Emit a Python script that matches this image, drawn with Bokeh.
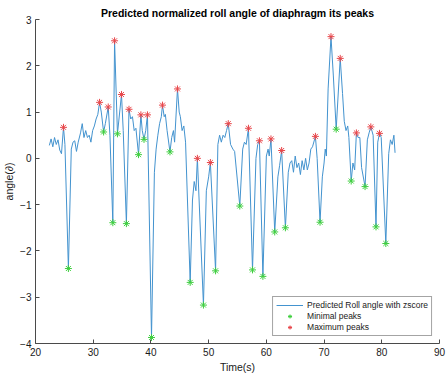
from bokeh.plotting import figure
from bokeh.models import ColumnDataSource, FixedTicker, Range1d
from bokeh.embed import file_html
from bokeh.resources import INLINE

# --- data ---
time_s = [22.4, 22.7, 23.0, 23.3, 23.6, 23.9, 24.2, 24.5, 24.85, 25.1, 25.7,
          26.2, 26.5, 26.8, 27.1, 27.4, 27.8, 28.1, 28.4, 28.7, 29.0, 29.3, 29.6,
          29.9, 30.2, 30.5, 30.8, 31.1, 31.4, 31.8, 32.1, 32.6, 32.9, 33.4, 33.7,
          34.2, 34.9, 35.2, 35.75, 36.2, 36.5, 36.8, 37.1, 37.4, 37.85, 38.26,
          38.5, 38.8, 39.1, 39.4, 40.1, 40.6, 40.9, 41.2, 41.5, 41.8, 42.0, 42.3,
          42.5, 42.8, 43.3, 43.6, 43.9, 44.1, 44.6, 44.9, 45.1, 45.4, 45.7, 46.0,
          46.8, 47.2, 47.5, 47.8, 48.05, 49.1, 49.6, 50.0, 50.3, 51.2, 51.6, 51.9,
          52.2, 52.5, 52.8, 53.1, 53.4, 53.8, 54.2, 54.5, 55.4, 55.9, 56.2, 56.5,
          56.9, 57.6, 58.2, 58.5, 58.8, 59.4, 60.0, 60.3, 60.5, 60.8, 61.45, 62.0,
          62.3, 62.65, 63.3, 63.8, 64.1, 64.4, 64.7, 65.0, 65.3, 65.6, 65.9, 66.2,
          66.5, 66.8, 67.1, 67.4, 67.7, 68.0, 68.5, 68.8, 69.3, 69.7, 70.0, 70.2,
          70.4, 70.7, 71.2, 71.6, 72.1, 72.8, 73.2, 73.5, 73.8, 74.1, 74.3, 74.7,
          75.0, 75.3, 75.6, 75.9, 76.2, 76.5, 77.1, 77.5, 77.8, 78.1, 78.5, 79.0,
          79.3, 79.6, 79.9, 80.7, 81.2, 81.5, 81.8, 82.1, 82.3]
roll_angle = [0.28, 0.42, 0.25, 0.45, 0.30, 0.40, 0.18, 0.10, 0.67, 0.30, -2.38,
              0.20, 0.35, 0.38, 0.15, 0.35, 0.55, 0.75, 0.45, 0.60, 0.45, 0.50, 0.35,
              0.60, 0.70, 0.85, 0.95, 1.21, 1.00, 0.57, 0.75, 1.11, 0.50, -1.39, 2.54,
              0.53, 1.38, 0.60, -1.41, 1.06, 0.85, 0.90, 0.60, 0.65, 0.08, 0.94,
              0.60, 0.41, 0.60, 0.94, -3.87, -0.30, 0.20, 0.50, 0.75, 0.90, 1.15, 0.90,
              0.95, 0.60, 0.14, 0.45, 0.60, 0.35, 1.50, 1.00, 0.90, 0.60, 0.70, 0.35,
              -2.68, -0.90, -0.50, -0.70, 0.00, -3.17, -0.70, -0.40, -0.09, -2.43, 0.30, 0.50,
              0.35, 0.50, 0.45, 0.60, 0.75, 0.30, 0.20, 0.15, -1.03, 0.20, 0.35, 0.30,
              0.65, -2.41, 0.00, 0.30, 0.38, -2.55, 0.05, 0.20, 0.05, 0.42, -1.59, -0.40,
              -0.15, 0.17, -1.50, -0.30, -0.10, -0.05, -0.30, 0.05, -0.20, -0.10, -0.35, -0.05,
              -0.25, 0.00, -0.25, -0.10, 0.20, 0.25, 0.475, 0.00, -1.38, -0.40, -0.10, 0.20,
              0.05, 1.50, 2.63, 1.80, 0.63, 2.16, 1.40, 0.80, 0.60, 0.70, 0.45, -0.49,
              -0.10, -0.25, 0.55, 0.45, 0.45, -0.20, -0.61, 0.40, 0.55, 0.68, 0.50, -1.48,
              0.35, 0.54, 0.45, -1.84, 0.10, 0.40, 0.30, 0.50, 0.12]

min_t = [25.7, 31.8, 33.4, 34.2, 35.75, 37.85, 38.8, 40.1, 43.3, 46.8, 49.1, 51.2,
         55.4, 57.6, 59.4, 61.45, 63.3, 69.3, 72.1, 74.7, 77.1, 79.0, 80.7]
min_y = [-2.38, 0.57, -1.39, 0.53, -1.41, 0.08, 0.41, -3.87, 0.14, -2.68, -3.17, -2.43,
         -1.03, -2.41, -2.55, -1.59, -1.50, -1.38, 0.63, -0.49, -0.61, -1.48, -1.84]

max_t = [24.85, 31.1, 32.6, 33.7, 34.9, 36.2, 38.26, 39.4, 42.0, 44.6, 48.05, 50.3,
         53.4, 56.9, 58.8, 60.8, 62.65, 68.5, 71.2, 72.8, 75.6, 78.1, 79.6]
max_y = [0.67, 1.21, 1.11, 2.54, 1.38, 1.06, 0.94, 0.94, 1.15, 1.50, 0.00, -0.09,
         0.75, 0.65, 0.38, 0.42, 0.17, 0.475, 2.63, 2.16, 0.55, 0.68, 0.54]

x_ticks = [20, 30, 40, 50, 60, 70, 80, 90]
y_ticks = [-4, -3, -2, -1, 0, 1, 2, 3]

FONT = "Liberation Sans"
AX = "#4a4a4a"

p = figure(frame_width=404, frame_height=324,
           x_range=Range1d(20, 90), y_range=Range1d(-4, 3),
           output_backend="svg", toolbar_location=None,
           min_border_left=33, min_border_right=9, min_border_top=19, min_border_bottom=38,
           title="Predicted normalized roll angle of diaphragm its peaks")
p.outline_line_color = None
p.background_fill_color = "white"
p.border_fill_color = "white"
p.xgrid.visible = False
p.ygrid.visible = False

p.title.align = "center"
p.title.text_font = FONT
p.title.text_font_size = "10.5px"
p.title.text_font_style = "bold"
p.title.text_color = "black"
p.title.standoff = 1

for ax, ticks in ((p.xaxis[0], x_ticks), (p.yaxis[0], y_ticks)):
    ax.ticker = FixedTicker(ticks=ticks)
    ax.minor_tick_line_color = None
    ax.major_tick_in = 4
    ax.major_tick_out = 0
    ax.axis_line_color = AX
    ax.major_tick_line_color = AX
    ax.major_label_text_font = FONT
    ax.major_label_text_font_size = "10px"
    ax.major_label_text_color = "#1a1a1a"
    ax.axis_label_text_font = FONT
    ax.axis_label_text_font_size = "10.5px"
    ax.axis_label_text_font_style = "normal"
    ax.axis_label_text_color = "#1a1a1a"

p.xaxis.axis_label = "Time(s)"
p.yaxis.axis_label = "angle(\u2202)"
p.xaxis.major_label_standoff = 4
p.yaxis.major_label_standoff = 4
p.xaxis.axis_label_standoff = 2
p.yaxis.axis_label_standoff = 2

src = ColumnDataSource(dict(t=time_s, y=roll_angle))
p.line("t", "y", source=src, line_color="#4393cf", line_width=1.0,
       legend_label="Predicted Roll angle with zscore")
p.scatter(min_t, min_y, marker="asterisk", size=7, line_color="#3fcf3f", line_width=1.0,
          legend_label="Minimal peaks")
p.scatter(max_t, max_y, marker="asterisk", size=7, line_color="#e8474b", line_width=1.0,
          legend_label="Maximum peaks")

lg = p.legend[0]
lg.location = "bottom_right"
lg.margin = 7
lg.padding = 3
lg.spacing = 1
lg.glyph_height = 10
lg.label_height = 10
lg.glyph_width = 27
lg.label_standoff = 4
lg.label_text_font = FONT
lg.label_text_font_size = "8.5px"
lg.label_text_color = "#1a1a1a"
lg.border_line_color = AX
lg.border_line_width = 1
lg.background_fill_color = "white"
lg.background_fill_alpha = 1.0

open("out.html", "w").write(file_html(p, INLINE))
